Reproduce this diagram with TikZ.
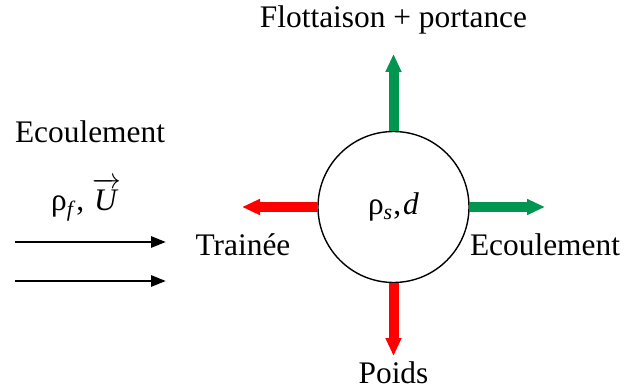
\documentclass[tikz,border=0pt]{standalone}
\usepackage{fontspec}
\setmainfont{Liberation Serif}
\usetikzlibrary{arrows.meta}
\definecolor{fgreen}{RGB}{0,150,80}
\definecolor{fred}{RGB}{255,0,0}
\tikzset{
  lbl/.style={inner sep=0pt, font=\fontsize{15.7}{19}\selectfont},
  ball/.style={circle, draw=black, line width=0.7pt, minimum size=75.5pt, inner sep=0pt, font=\fontsize{15.7}{19}\selectfont},
  force/.style={line width=5pt, -{Triangle[length=9pt,width=7.5pt]}},
  flow/.style={line width=1.4pt, -{Triangle[length=7.5pt,width=5.5pt]}}
}
\begin{document}
\begin{tikzpicture}[x=0.5pt,y=-0.5pt]
\useasboundingbox (0,0) rectangle (632,390);
\node[ball] (b) at (393.5,207) {ρ\raisebox{-0.35ex}{\fontsize{11}{12}\selectfont\textit{s}}\kern0.5pt,\kern1pt\textit{d}};
\coordinate (tN) at (393.5,54);
\coordinate (tW) at (242,207);
\coordinate (tE) at (545,207);
\coordinate (tS) at (393.5,356);
\draw[force, fgreen] (b.north) -- (tN);
\draw[force, fred] (b.west) -- (tW);
\draw[force, fgreen] (b.east) -- (tE);
\draw[force, fred] (b.south) -- (tS);
\node[lbl] (flot) at (393.5,20) {Flottaison + portance};
\node[lbl] (trai) at (243,245) {Trainée};
\node[lbl] (ecr) at (545,245) {Ecoulement};
\node[lbl] (poids) at (393.5,373) {Poids};
\node[lbl] (ecl) at (90,132) {Ecoulement};
\node[lbl, anchor=base] (rhof) at (86,211) {ρ\raisebox{-0.35ex}{\fontsize{11}{12}\selectfont\textit{f}}\kern0.5pt, $\overrightarrow{\textit{U}\rule{0pt}{12pt}\kern1pt}$};
\coordinate (a1s) at (15,242);
\coordinate (a1e) at (166,242);
\coordinate (a2s) at (15,281);
\coordinate (a2e) at (166,281);
\draw[flow] (a1s) -- (a1e);
\draw[flow] (a2s) -- (a2e);
\end{tikzpicture}
\end{document}
